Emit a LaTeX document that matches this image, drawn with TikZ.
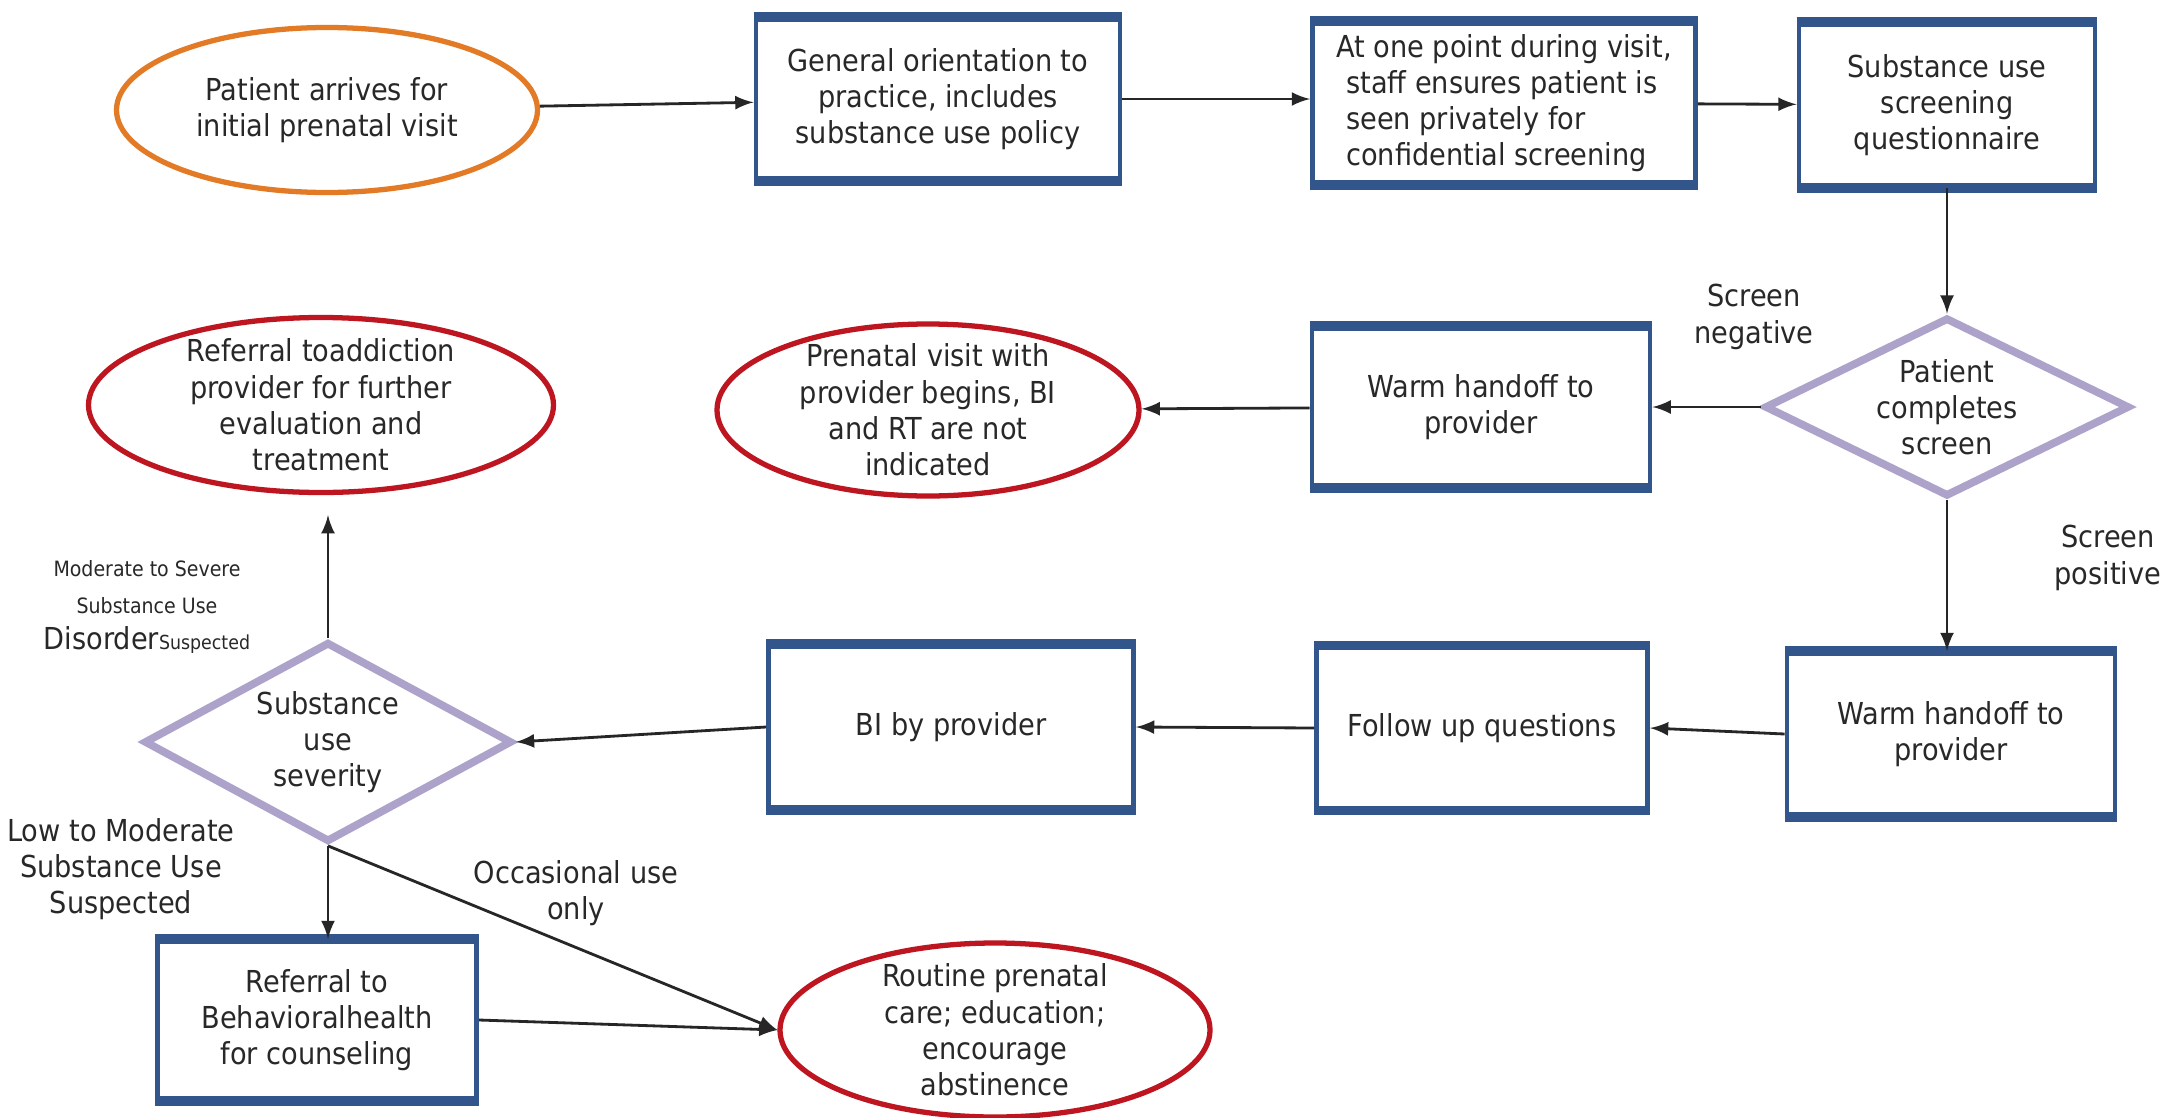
\documentclass[tikz,border=0pt]{standalone}
\usepackage{fontspec}
\setmainfont{DejaVu Sans Condensed}
\usepackage{tikz}
\usetikzlibrary{arrows,shapes}
\usetikzlibrary{calc}

\definecolor{boxblue}{RGB}{50,86,140}
\definecolor{stepred}{RGB}{190,22,32}
\definecolor{startorange}{RGB}{226,122,38}
\definecolor{askpurple}{RGB}{172,162,202}
\definecolor{inktext}{RGB}{40,40,40}

\tikzset{
	every node/.style={font=\fontsize{8.6}{10.3}\selectfont, text=inktext},
	stepbox/.style={rectangle, draw=boxblue, line width=1.4pt, fill=white, align=center, inner sep=0pt},
	endoval/.style={ellipse, draw=stepred, line width=1.5pt, fill=white, align=center, inner xsep=0pt, inner ysep=-0.3cm},
	askdiamond/.style={diamond, draw=askpurple, line width=2.2pt, fill=white, align=center, aspect=2, inner sep=0pt},
	flow/.style={->, >=latex, black!85, line width=0.8pt}
}

\begin{document}
\begin{tikzpicture}[auto,swap]
	\useasboundingbox[fill=white] (0,0) rectangle (21.62,-11.17);

	\node[endoval, draw=startorange, minimum width=4.21cm, minimum height=1.65cm] (arrive) at (3.27,-1.10) {Patient arrives for\\initial prenatal visit};
	\node[stepbox, minimum width=3.64cm, minimum height=1.59cm] (orient) at (9.38,-0.99) {General orientation to\\practice, includes\\substance use policy};
	\node[stepbox, minimum width=3.83cm, minimum height=1.59cm, align=left] (private) at (15.04,-1.03) {At one point during visit,\\\hspace{0.1cm}staff ensures patient is\\\hspace{0.1cm}seen privately for\\\hspace{0.1cm}confidential screening};
	\node[stepbox, minimum width=2.96cm, minimum height=1.61cm] (quest) at (19.47,-1.05) {Substance use\\screening\\questionnaire};
	\node[askdiamond, minimum width=3.65cm, minimum height=1.79cm] (screen) at (19.47,-4.07) {Patient\\completes\\screen};
	\node[stepbox, minimum width=3.38cm, minimum height=1.57cm] (handneg) at (14.81,-4.07) {Warm handoff to\\provider};
	\node[endoval, minimum width=4.22cm, minimum height=1.72cm] (visit) at (9.28,-4.10) {Prenatal visit with\\provider begins, BI\\and RT are not\\indicated};
	\node[endoval, minimum width=4.65cm, minimum height=1.75cm] (addict) at (3.21,-4.05) {Referral toaddiction\\provider for further\\evaluation and\\treatment};
	\node[askdiamond, minimum width=3.68cm, minimum height=2.0cm] (severity) at (3.28,-7.42) {Substance\\use\\severity};
	\node[stepbox, minimum width=3.65cm, minimum height=1.61cm] (bi) at (9.51,-7.27) {BI by provider};
	\node[stepbox, minimum width=3.31cm, minimum height=1.60cm] (follow) at (14.82,-7.28) {Follow up questions};
	\node[stepbox, minimum width=3.28cm, minimum height=1.61cm] (handpos) at (19.51,-7.34) {Warm handoff to\\provider};
	\node[stepbox, minimum width=3.19cm, minimum height=1.57cm] (behav) at (3.17,-10.20) {Referral to\\Behavioralhealth\\for counseling};
	\node[endoval, minimum width=4.30cm, minimum height=1.74cm] (routine) at (9.95,-10.30) {Routine prenatal\\care; education;\\encourage\\abstinence};

	\foreach \n in {orient,private,quest,handneg,bi,follow,handpos,behav}
		\draw[boxblue, line width=2.6pt] (\n.north west) -- (\n.north east) (\n.south west) -- (\n.south east);

	\draw[flow] (arrive) -- (orient);
	\draw[flow] (orient.east) -- (private.west |- orient.east);
	\draw[flow] (private) -- (quest);
	\draw[flow] (quest) -- (screen.north);
	\draw[flow] (screen.west) -- (handneg.east |- screen.west);
	\draw[flow] (handneg) -- (visit);
	\draw[flow] (screen.south) -- (handpos.north -| screen.south);
	\draw[flow] (handpos.west) -- (follow.east);
	\draw[flow] (follow.west) -- (bi.east);
	\draw[flow] (bi.west) -- (severity.east);
	\draw[flow, shorten >=0.2cm] (severity.north) -- (severity.north |- addict.south);
	\draw[flow] (severity.south) -- (severity.south |- behav.north);
	\draw[flow] (severity.south) -- (routine.west);
	\draw[flow] (behav.east) -- (routine.west);

	\node[align=center] (neglbl) at (17.54,-3.17) {Screen\\negative};
	\node[align=center, anchor=east, inner sep=0pt] (poslbl) at (21.62,-5.58) {Screen\\positive};
	\node[align=center] (modlbl) at (1.47,-6.07) {{\fontsize{6}{7}\selectfont Moderate to Severe}\\{\fontsize{6}{8.5}\selectfont Substance Use}\\Disorder{\fontsize{5.5}{6}\selectfont Suspected}};
	\node[align=center] (lowlbl) at (1.21,-8.69) {Low to Moderate\\Substance Use\\Suspected};
	\node[align=center] (occlbl) at (5.76,-8.93) {Occasional use\\only};
\end{tikzpicture}
\end{document}
